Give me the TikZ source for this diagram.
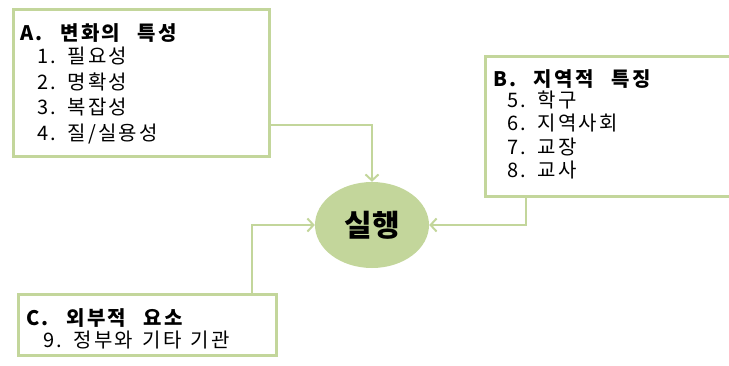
\documentclass[tikz,border=0pt]{standalone}
\usepackage{fontspec}
\setmainfont{Noto Sans CJK KR}
\newfontfamily\ttlfont{Noto Sans CJK KR}[LetterSpace=12,WordSpace=2.5]
\newfontfamily\itmfont{Noto Sans CJK KR}[LetterSpace=11,WordSpace=1.4]
\usetikzlibrary{shapes.geometric,arrows.meta}
\definecolor{gr}{HTML}{C3D69B}
\begin{document}
\begin{tikzpicture}[x=1pt,y=-1pt,
  box/.style={draw=gr,line width=3pt,fill=white,inner sep=0pt,anchor=north west},
  conn/.style={draw=gr,line width=2pt,-{Straight Barb[length=6pt,width=13pt]}},
  ttl/.style={anchor=base west,inner sep=0pt,font=\ttlfont\fontsize{20}{24}\selectfont\bfseries},
  itm/.style={anchor=base west,inner sep=0pt,font=\itmfont\fontsize{20}{24}\selectfont}]
\useasboundingbox (0,0) rectangle (729,365);
% boxes
\node[box,minimum width=256pt,minimum height=147pt] (A) at (12,8) {};
\node[box,minimum width=290pt,minimum height=140pt] (B) at (484,55) {};
\node[box,minimum width=258pt,minimum height=61pt] (C) at (17,293) {};
\node[ellipse,fill=gr,minimum width=114pt,minimum height=86pt,inner sep=0pt] (E) at (372,225) {};
\node[font=\fontsize{30}{32}\selectfont\bfseries,inner sep=0pt] (Et) at (E.center) {실행};
% texts A
\node[ttl] (at) at (20,40) {A. 변화의 특성};
\node[itm] (a1) at (37,63) {1. 필요성};
\node[itm] (a2) at (37,89) {2. 명확성};
\node[itm] (a3) at (37,114) {3. 복잡성};
\node[itm] (a4) at (37,140) {4. 질/실용성};
% texts B
\node[ttl] (bt) at (493,86) {B. 지역적 특징};
\node[itm] (b1) at (507,107) {5. 학구};
\node[itm] (b2) at (507,130) {6. 지역사회};
\node[itm] (b3) at (507,154) {7. 교장};
\node[itm] (b4) at (507,177) {8. 교사};
% texts C
\node[ttl] (ct) at (26,325) {C. 외부적 요소};
\node[itm] (c1) at (43,347) {9. 정부와 기타 기관};
% connectors
\coordinate (pa) at (0,125);
\coordinate (pb) at (526,0);
\coordinate (pc) at (252,0);
\draw[conn] (A.east |- pa) -| (E.north);
\draw[conn] (pb |- B.south) |- (E.east);
\draw[conn] (pc |- C.north) |- (E.west);
\end{tikzpicture}
\end{document}
